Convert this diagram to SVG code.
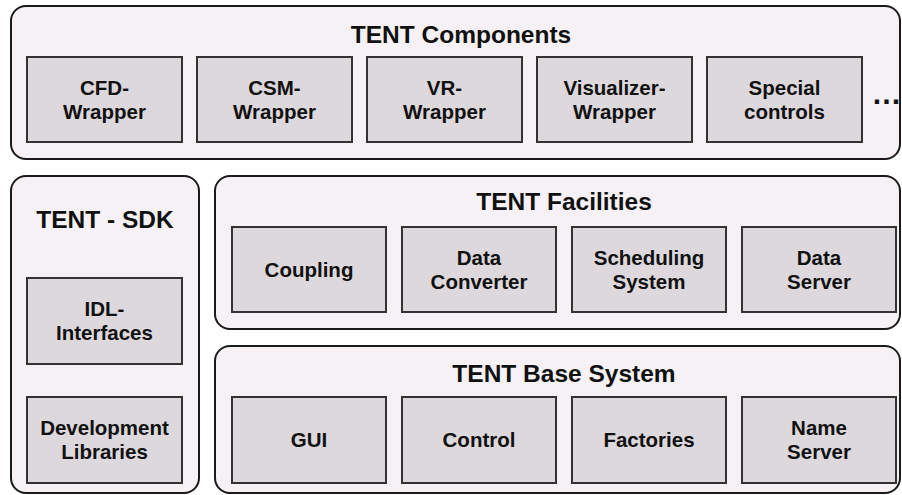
<svg xmlns="http://www.w3.org/2000/svg" width="902" height="495" viewBox="0 0 902 495">
<style>
.panel{fill:#f5f1f5;stroke:#1a1a1a;stroke-width:2}
.box{fill:#dcd8dc;stroke:#333333;stroke-width:2}
text{font-family:"Liberation Sans",Arial,Helvetica,sans-serif;font-weight:bold;fill:#111111;text-anchor:middle}
.title{font-size:24.5px}
.lbl{font-size:20.5px}
</style>
<rect width="902" height="495" fill="#ffffff"/>
<g id="components">
<rect class="panel" x="11" y="6" width="889" height="153" rx="15"/>
<text class="title" x="461" y="43">TENT Components</text>
<g id="cfd"><rect class="box" x="27" y="57" width="155" height="85"/><text class="lbl" x="104.5" y="95">CFD-</text><text class="lbl" x="104.5" y="119">Wrapper</text></g>
<g id="csm"><rect class="box" x="197" y="57" width="155" height="85"/><text class="lbl" x="274.5" y="95">CSM-</text><text class="lbl" x="274.5" y="119">Wrapper</text></g>
<g id="vr"><rect class="box" x="367" y="57" width="155" height="85"/><text class="lbl" x="444.5" y="95">VR-</text><text class="lbl" x="444.5" y="119">Wrapper</text></g>
<g id="vis"><rect class="box" x="537" y="57" width="155" height="85"/><text class="lbl" x="614.5" y="95">Visualizer-</text><text class="lbl" x="614.5" y="119">Wrapper</text></g>
<g id="special"><rect class="box" x="707" y="57" width="155" height="85"/><text class="lbl" x="784.5" y="95">Special</text><text class="lbl" x="784.5" y="119">controls</text></g>
<text x="886.5" y="104" style="font-size:30px">…</text>
</g>
<g id="sdk">
<rect class="panel" x="11" y="176" width="188" height="317" rx="15"/>
<text class="title" x="105" y="228">TENT - SDK</text>
<g id="idl"><rect class="box" x="27" y="278" width="155" height="86"/><text class="lbl" x="104.5" y="316">IDL-</text><text class="lbl" x="104.5" y="340">Interfaces</text></g>
<g id="devlib"><rect class="box" x="27" y="397" width="155" height="86"/><text class="lbl" x="104.5" y="435">Development</text><text class="lbl" x="104.5" y="459">Libraries</text></g>
</g>
<g id="facilities">
<rect class="panel" x="215" y="176" width="685" height="153" rx="15"/>
<text class="title" x="564" y="210">TENT Facilities</text>
<g id="coupling"><rect class="box" x="232" y="227" width="154" height="85"/><text class="lbl" x="309" y="277">Coupling</text></g>
<g id="dataconv"><rect class="box" x="402" y="227" width="154" height="85"/><text class="lbl" x="479" y="265">Data</text><text class="lbl" x="479" y="289">Converter</text></g>
<g id="sched"><rect class="box" x="572" y="227" width="154" height="85"/><text class="lbl" x="649" y="265">Scheduling</text><text class="lbl" x="649" y="289">System</text></g>
<g id="dataserver"><rect class="box" x="742" y="227" width="154" height="85"/><text class="lbl" x="819" y="265">Data</text><text class="lbl" x="819" y="289">Server</text></g>
</g>
<g id="base">
<rect class="panel" x="215" y="346" width="685" height="147" rx="15"/>
<text class="title" x="564" y="382">TENT Base System</text>
<g id="gui"><rect class="box" x="232" y="397" width="154" height="86"/><text class="lbl" x="309" y="447">GUI</text></g>
<g id="control"><rect class="box" x="402" y="397" width="154" height="86"/><text class="lbl" x="479" y="447">Control</text></g>
<g id="factories"><rect class="box" x="572" y="397" width="154" height="86"/><text class="lbl" x="649" y="447">Factories</text></g>
<g id="nameserver"><rect class="box" x="742" y="397" width="154" height="86"/><text class="lbl" x="819" y="435">Name</text><text class="lbl" x="819" y="459">Server</text></g>
</g>
<g id="connectors"></g>
</svg>
